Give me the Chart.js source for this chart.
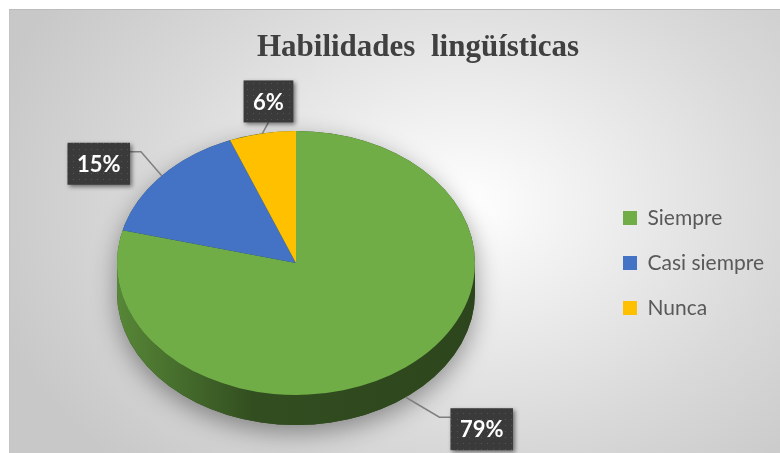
<!DOCTYPE html>
<html lang="es">
<head>
<meta charset="utf-8">
<title>Habilidades lingüísticas</title>
<script src="https://cdn.jsdelivr.net/npm/chart.js@4.4.1/dist/chart.umd.min.js"></script>
<style>
  html, body { margin: 0; padding: 0; background: #fff; }
  body { width: 780px; height: 453px; position: relative; overflow: hidden; }
  #frame {
    position: absolute; left: 9px; top: 9px; width: 771px; height: 444px; overflow: hidden;
    background: radial-gradient(ellipse 64% 82% at 59% 44%, #ffffff 0%, #f4f4f4 18%, #d9d9d9 65%, #c8c8c8 100%);
    box-shadow: inset 0 1px 0 #bcbcbc, inset 1px 0 0 #c4c4c4;
  }
  #frame canvas { position: absolute; left: -16px; top: 0; }
  #title {
    position: absolute; left: 418px; top: 28px; transform: translateX(-50%);
    font: bold 31px "Liberation Serif", "Times New Roman", serif; line-height: 36px;
    color: #404040; white-space: pre;
  }
</style>
</head>
<body>
<div id="frame"><canvas id="pieChart" width="787" height="444"></canvas></div>
<div id="title">Habilidades  lingüísticas</div>
<script>
const categories = ['Siempre', 'Casi siempre', 'Nunca'];
const percentages = [79, 15, 6];
const sliceColors = ['#70AD47', '#4472C4', '#FFC000'];

// darken a hex colour by a factor
function shade(hex, f) {
    const n = parseInt(hex.slice(1), 16);
    const r = Math.round(((n >> 16) & 255) * f);
    const g = Math.round(((n >> 8) & 255) * f);
    const b = Math.round((n & 255) * f);
    return `rgb(${r},${g},${b})`;
}

// dotted dark fill used by the data label boxes
function dotPattern(ctx) {
    const c = document.createElement('canvas');
    c.width = 6; c.height = 6;
    const p = c.getContext('2d');
    p.fillStyle = '#3a3a3a';
    p.fillRect(0, 0, 6, 6);
    p.fillStyle = '#545454';
    p.fillRect(2, 2, 1, 1);
    return ctx.createPattern(c, 'repeat');
}

// tilts the pie into an ellipse and draws its side wall + shadow
const pie3d = {
    id: 'pie3d',
    beforeDatasetsDraw(chart, args, opts) {
        const arcs = chart.getDatasetMeta(0).data;
        const ctx = chart.ctx;
        const { x: cx, y: cy, outerRadius: rx } = arcs[0];
        const ry = rx * opts.tilt, d = opts.depth;

        ctx.save();
        ctx.beginPath();
        ctx.ellipse(cx, cy + d, rx, ry, 0, 0, Math.PI);
        ctx.lineTo(cx - rx, cy);
        ctx.ellipse(cx, cy, rx, ry, 0, Math.PI, 2 * Math.PI);
        ctx.closePath();
        ctx.shadowColor = 'rgba(0,0,0,0.38)';
        ctx.shadowBlur = 24;
        ctx.shadowOffsetY = 8;
        ctx.fillStyle = '#2e4a1d';
        ctx.fill();
        ctx.restore();

        arcs.forEach((arc, i) => {
            const color = chart.data.datasets[0].backgroundColor[i];
            for (let k = -1; k <= 1; k++) {
                const a0 = Math.max(arc.startAngle, 2 * Math.PI * k);
                const a1 = Math.min(arc.endAngle, 2 * Math.PI * k + Math.PI);
                if (a1 <= a0) continue;
                const g = ctx.createLinearGradient(cx - rx, 0, cx + rx, 0);
                g.addColorStop(0, shade(color, 0.78));
                g.addColorStop(0.38, shade(color, 0.45));
                g.addColorStop(1, shade(color, 0.4));
                ctx.beginPath();
                ctx.ellipse(cx, cy, rx, ry, 0, a0, a1);
                ctx.ellipse(cx, cy + d, rx, ry, 0, a1, a0, true);
                ctx.closePath();
                ctx.fillStyle = g;
                ctx.fill();
            }
        });

        ctx.save();
        ctx.translate(cx, cy);
        ctx.scale(1, opts.tilt);
        ctx.translate(-cx, -cy);
    },
    afterDatasetsDraw(chart) {
        chart.ctx.restore();
    }
};

// percentage boxes with leader lines
const pieLabels = {
    id: 'pieLabels',
    afterDatasetsDraw(chart, args, opts) {
        const ctx = chart.ctx;
        const tilt = chart.options.plugins.pie3d.tilt;
        const depth = chart.options.plugins.pie3d.depth;
        const values = chart.data.datasets[0].data;
        const fill = dotPattern(ctx);

        chart.getDatasetMeta(0).data.forEach((arc, i) => {
            const t = (arc.startAngle + arc.endAngle) / 2;
            const ax = arc.x + arc.outerRadius * Math.cos(t);
            let ay = arc.y + arc.outerRadius * tilt * Math.sin(t);
            if (Math.sin(t) > 0) ay += depth;

            const text = values[i] + '%';
            ctx.font = 'bold 22px Lato';
            const w = ctx.measureText(text).width + 2 * opts.padX;
            const h = opts.boxHeight;
            const bx = ax + opts.offsets[i][0] - w / 2;
            const by = ay + opts.offsets[i][1] - h / 2;

            ctx.save();
            ctx.strokeStyle = '#7f7f7f';
            ctx.lineWidth = 1.5;
            ctx.beginPath();
            if (ax >= bx && ax <= bx + w) {
                ctx.moveTo(bx + w / 2, ay > by ? by + h : by);
                ctx.lineTo(ax, ay);
            } else {
                const sx = ax < bx ? bx : bx + w;
                const ex = ax < bx ? sx - 11 : sx + 11;
                ctx.moveTo(sx, by + 9);
                ctx.lineTo(ex, by + 9);
                ctx.lineTo(ax, ay);
            }
            ctx.stroke();

            ctx.shadowColor = 'rgba(0,0,0,0.5)';
            ctx.shadowBlur = 4;
            ctx.shadowOffsetX = 2;
            ctx.shadowOffsetY = 2;
            ctx.fillStyle = fill;
            ctx.fillRect(bx, by, w, h);
            ctx.restore();

            ctx.fillStyle = '#ffffff';
            ctx.textAlign = 'center';
            ctx.textBaseline = 'middle';
            ctx.fillText(text, bx + w / 2, by + h / 2 + 1);
        });
    }
};

new Chart(document.getElementById('pieChart'), {
    type: 'pie',
    data: {
        labels: categories,
        datasets: [{
            data: percentages,
            backgroundColor: sliceColors,
            borderWidth: 0,
            radius: 179
        }]
    },
    options: {
        responsive: false,
        animation: false,
        events: [],
        layout: { padding: { left: 0, right: 11, top: 74, bottom: 10 } },
        plugins: {
            legend: {
                position: 'right',
                maxWidth: 170,
                labels: {
                    boxWidth: 14,
                    boxHeight: 14,
                    padding: 24,
                    color: '#595959',
                    font: { family: 'Lato', size: 21 }
                }
            },
            tooltip: { enabled: false },
            pie3d: { tilt: 0.737, depth: 30 },
            pieLabels: {
                padX: 9.5,
                boxHeight: 42,
                offsets: [[76, 32], [-63, -12], [6, -32]]
            }
        }
    },
    plugins: [pie3d, pieLabels]
});
</script>
</body>
</html>
